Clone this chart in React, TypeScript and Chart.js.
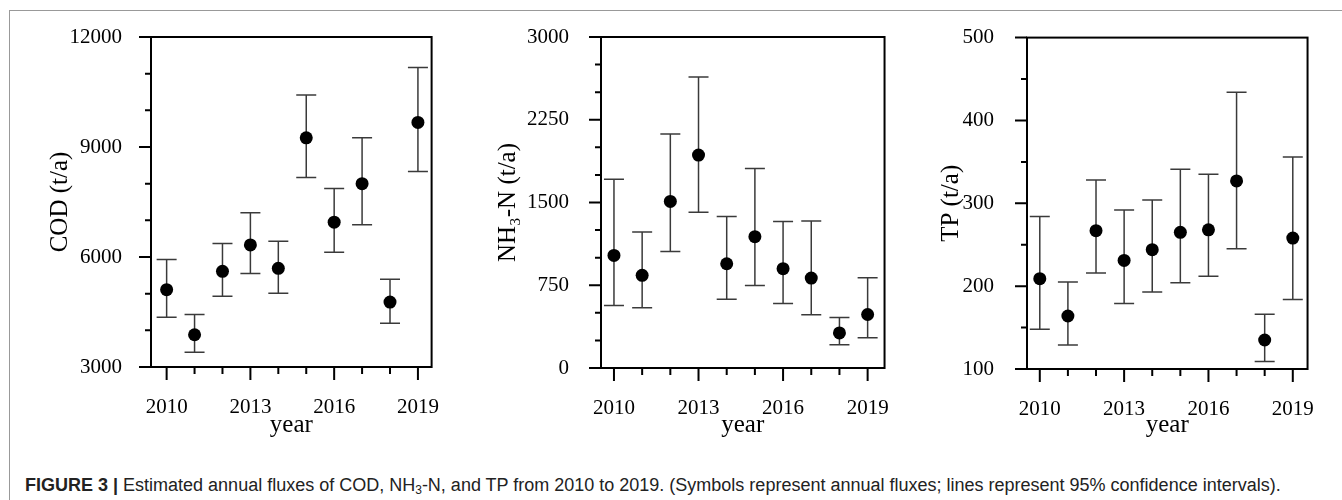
import React, { useEffect, useRef } from "react";
import { Chart, registerables } from "chart.js";

Chart.register(...registerables);

// ---------- data ----------
const years = [2010, 2011, 2012, 2013, 2014, 2015, 2016, 2017, 2018, 2019];
const yearTickLabels = [2010, 2013, 2016, 2019];

const codMean = [5110, 3880, 5610, 6330, 5690, 9250, 6950, 8000, 4770, 9670];
const codLow = [4360, 3400, 4930, 5550, 5010, 8170, 6130, 6880, 4190, 8330];
const codHigh = [5930, 4430, 6370, 7210, 6430, 10420, 7870, 9250, 5390, 11170];

const nh3Mean = [1020, 840, 1510, 1930, 945, 1190, 900, 815, 318, 485];
const nh3Low = [567, 546, 1055, 1411, 624, 748, 585, 482, 211, 274];
const nh3High = [1710, 1233, 2120, 2638, 1372, 1809, 1327, 1333, 458, 817];

const tpMean = [209, 164, 267, 231, 244, 265, 268, 327, 135, 258];
const tpLow = [148, 129, 216, 179, 193, 204, 212, 245, 109, 184];
const tpHigh = [284, 205, 328, 292, 304, 341, 335, 434, 166, 356];

const SERIF = "'Liberation Serif', 'Times New Roman', serif";
const SANS = "'Liberation Sans', Arial, Helvetica, sans-serif";

type Panel = {
  left: number;
  width: number;
  yWidth: number;
  xHeight: number;
  padRight: number;
  labelPad: number;
  xMin: number;
  xMax: number;
  yMin: number;
  yMax: number;
  yStep: number;
  yLabelStep: number;
  yTitle: string;
  mean: number[];
  low: number[];
  high: number[];
};

const CANVAS_H = 440;

const panels: Panel[] = [
  {
    left: 45, width: 415, yWidth: 106, xHeight: 73, padRight: 22, labelPad: 21,
    xMin: 2009.44, xMax: 2019.49, yMin: 3000, yMax: 12000, yStep: 1000, yLabelStep: 3000,
    yTitle: "COD (t/a)", mean: codMean, low: codLow, high: codHigh,
  },
  {
    left: 493, width: 417, yWidth: 108, xHeight: 72, padRight: 23, labelPad: 24,
    xMin: 2009.54, xMax: 2019.6, yMin: 0, yMax: 3000, yStep: 250, yLabelStep: 750,
    yTitle: "NH\u2083-N (t/a)", mean: nh3Mean, low: nh3Low, high: nh3High,
  },
  {
    left: 936, width: 399, yWidth: 91, xHeight: 71, padRight: 23, labelPad: 25,
    xMin: 2009.545, xMax: 2019.525, yMin: 100, yMax: 500, yStep: 50, yLabelStep: 100,
    yTitle: "TP (t/a)", mean: tpMean, low: tpLow, high: tpHigh,
  },
];

// Draws the frame box and outward tick marks (major = labelled ticks).
const frameTicks = {
  id: "frameTicks",
  afterDraw(chart: any) {
    const { ctx, chartArea } = chart;
    const xs = chart.scales.x;
    const ys = chart.scales.y;
    ctx.save();
    ctx.strokeStyle = "#000";
    ctx.lineWidth = 2;
    ctx.lineCap = "butt";
    ctx.beginPath();
    xs.ticks.forEach((t: any) => {
      const px = xs.getPixelForValue(t.value);
      const len = t.label ? 13 : 7;
      ctx.moveTo(px, chartArea.bottom);
      ctx.lineTo(px, chartArea.bottom + len);
    });
    ys.ticks.forEach((t: any) => {
      const py = ys.getPixelForValue(t.value);
      const len = t.label ? 12 : 6;
      ctx.moveTo(chartArea.left, py);
      ctx.lineTo(chartArea.left - len, py);
    });
    ctx.stroke();
    ctx.strokeRect(
      chartArea.left,
      chartArea.top,
      chartArea.right - chartArea.left,
      chartArea.bottom - chartArea.top
    );
    ctx.restore();
  },
};

function PanelChart({ p }: { p: Panel }) {
  const ref = useRef<HTMLCanvasElement>(null);
  useEffect(() => {
    const errData: any[] = [];
    years.forEach((yr, i) => {
      errData.push({ x: yr, y: p.low[i] });
      errData.push({ x: yr, y: p.high[i] });
      errData.push({ x: yr, y: null });
    });
    const chart = new Chart(ref.current as HTMLCanvasElement, {
      type: "scatter",
      data: {
        datasets: [
          {
            label: "mean",
            data: years.map((yr, i) => ({ x: yr, y: p.mean[i] })),
            pointRadius: 6.5,
            pointBackgroundColor: "#000",
            pointBorderWidth: 0,
            showLine: false,
            order: 0,
          },
          {
            label: "ci",
            data: errData,
            showLine: true,
            spanGaps: false,
            borderColor: "#3a3a3a",
            borderWidth: 1.5,
            pointStyle: "line",
            pointRadius: 10,
            pointBorderColor: "#3a3a3a",
            pointBorderWidth: 1.5,
            order: 1,
          } as any,
        ],
      },
      options: {
        animation: false,
        responsive: false,
        events: [],
        layout: {
          autoPadding: false,
          padding: { top: 37, right: p.padRight, left: 0, bottom: 0 },
        } as any,
        plugins: {
          legend: { display: false },
          tooltip: { enabled: false },
        },
        scales: {
          x: {
            type: "linear",
            min: p.xMin,
            max: p.xMax,
            grid: { display: false },
            border: { display: false },
            afterBuildTicks: (scale: any) => {
              scale.ticks = years.map((v) => ({ value: v }));
            },
            afterFit: (scale: any) => {
              scale.height = p.xHeight;
            },
            ticks: {
              autoSkip: false,
              maxRotation: 0,
              padding: 20,
              color: "#000",
              font: { family: SERIF, size: 21 },
              callback: (v: any) => (yearTickLabels.includes(Number(v)) ? String(v) : ""),
            },
            title: {
              display: true,
              text: "year",
              color: "#000",
              padding: 0,
              font: { family: SERIF, size: 25 },
            },
          },
          y: {
            type: "linear",
            min: p.yMin,
            max: p.yMax,
            grid: { display: false },
            border: { display: false },
            afterFit: (scale: any) => {
              scale.width = p.yWidth;
            },
            ticks: {
              stepSize: p.yStep,
              autoSkip: false,
              padding: p.labelPad,
              color: "#000",
              font: { family: SERIF, size: 21 },
              callback: (v: any) => (Number(v) % p.yLabelStep === 0 ? String(v) : ""),
            },
            title: {
              display: true,
              text: p.yTitle,
              color: "#000",
              padding: 0,
              font: { family: SERIF, size: 25 },
            },
          },
        },
      },
      plugins: [frameTicks],
    });
    return () => chart.destroy();
  }, [p]);
  return (
    <canvas
      ref={ref}
      width={p.width}
      height={CANVAS_H}
      style={{ position: "absolute", left: p.left, top: 0, width: p.width, height: CANVAS_H }}
    />
  );
}

export default function App() {
  return (
    <div
      style={{
        position: "absolute",
        left: 0,
        top: 0,
        width: 1342,
        height: 500,
        background: "#fff",
        overflow: "hidden",
      }}
    >
      <div
        style={{
          position: "absolute",
          left: 9,
          top: 10,
          width: 1340,
          height: 500,
          borderLeft: "1px solid #999",
          borderTop: "1px solid #999",
        }}
      />
      {panels.map((p, i) => (
        <PanelChart key={i} p={p} />
      ))}
      <div
        style={{
          position: "absolute",
          left: 25,
          top: 475,
          fontFamily: SANS,
          fontSize: 18,
          lineHeight: "20px",
          color: "#222",
          whiteSpace: "nowrap",
        }}
      >
        <b>FIGURE 3 |</b> Estimated annual fluxes of COD, NH
        <sub style={{ fontSize: 12, verticalAlign: "-3px", lineHeight: 0 }}>3</sub>-N, and TP from 2010 to
        2019. (Symbols represent annual fluxes; lines represent 95% confidence intervals).
      </div>
    </div>
  );
}
